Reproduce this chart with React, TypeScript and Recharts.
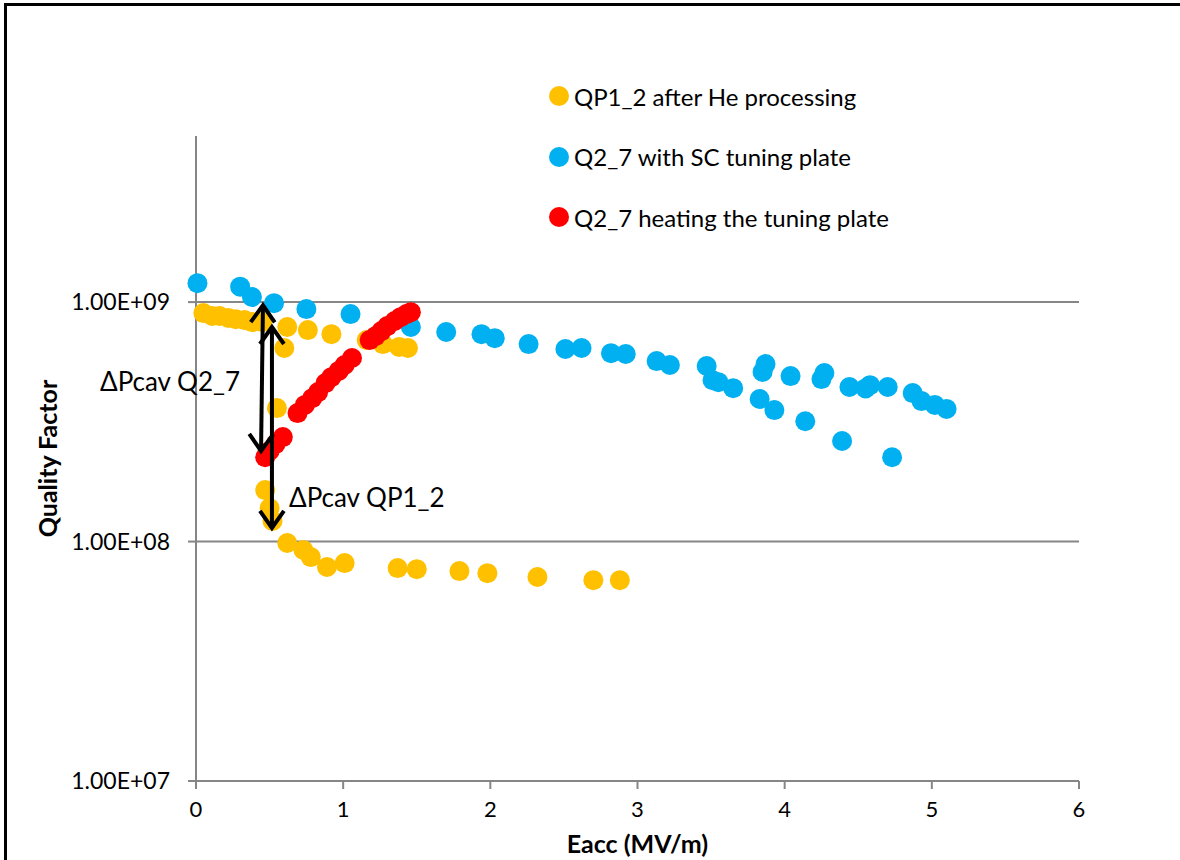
import { ScatterChart, Scatter, XAxis, YAxis, CartesianGrid, Legend, ReferenceLine } from 'recharts'

// [Eacc (MV/m), Q0]
const qp12Points: [number, number][] = [
  [0.05, 9.0e8], [0.11, 8.75e8], [0.16, 8.75e8], [0.22, 8.58e8], [0.27, 8.49e8],
  [0.33, 8.41e8], [0.38, 8.25e8], [0.45, 8.25e8], [0.62, 7.87e8], [0.6, 6.43e8],
  [0.76, 7.64e8], [0.92, 7.35e8], [0.55, 3.61e8], [1.16, 6.94e8], [1.27, 6.68e8],
  [1.38, 6.5e8], [1.44, 6.43e8], [0.47, 1.64e8], [0.5, 1.38e8], [0.52, 1.22e8],
  [0.62, 9.86e7], [0.73, 9.22e7], [0.78, 8.61e7], [0.89, 7.83e7], [1.01, 8.13e7],
  [1.37, 7.75e7], [1.5, 7.67e7], [1.79, 7.53e7], [1.98, 7.38e7], [2.32, 7.11e7],
  [2.7, 6.9e7], [2.88, 6.9e7],
]

const q27ScPoints: [number, number][] = [
  [0.01, 1.2e9], [0.3, 1.16e9], [0.38, 1.05e9], [0.53, 9.9e8], [0.75, 9.35e8],
  [1.05, 8.91e8], [1.46, 7.87e8], [1.7, 7.5e8], [1.94, 7.35e8], [2.03, 7.07e8],
  [2.26, 6.68e8], [2.51, 6.37e8], [2.62, 6.43e8], [2.82, 6.12e8], [2.92, 6.07e8],
  [3.13, 5.67e8], [3.22, 5.46e8], [3.47, 5.41e8], [3.51, 4.72e8], [3.55, 4.63e8],
  [3.65, 4.37e8], [3.83, 3.94e8], [3.85, 5.11e8], [3.87, 5.51e8], [3.93, 3.54e8],
  [4.04, 4.91e8], [4.14, 3.18e8], [4.25, 4.77e8], [4.27, 5.06e8], [4.39, 2.63e8],
  [4.44, 4.42e8], [4.55, 4.36e8], [4.58, 4.5e8], [4.7, 4.42e8], [4.73, 2.25e8],
  [4.87, 4.17e8], [4.93, 3.86e8], [5.02, 3.72e8], [5.1, 3.58e8],
]

const q27HeatPoints: [number, number][] = [
  [0.47, 2.25e8], [0.5, 2.39e8], [0.54, 2.55e8], [0.59, 2.73e8], [0.69, 3.44e8],
  [0.74, 3.72e8], [0.79, 3.97e8], [0.83, 4.21e8], [0.88, 4.59e8], [0.92, 4.86e8],
  [0.97, 5.16e8], [1.01, 5.46e8], [1.06, 5.84e8], [1.18, 6.94e8], [1.22, 7.21e8],
  [1.26, 7.57e8], [1.3, 7.94e8], [1.35, 8.34e8], [1.39, 8.65e8], [1.43, 8.91e8],
  [1.46, 9.08e8],
]

const seriesNames = ['QP1_2 after He processing', 'Q2_7 with SC tuning plate', 'Q2_7 heating the tuning plate']
const seriesColors = ['#FFC000', '#00B0F0', '#FF0000']

const xTicks = [0, 1, 2, 3, 4, 5, 6]
const yTicks = [1e7, 1e8, 1e9]

// ΔPcav arrows: top point -> bottom point
const arrowQ27 = [{ x: 0.455, y: 9.7e8 }, { x: 0.442, y: 2.39e8 }]
const arrowQP12 = [{ x: 0.516, y: 7.87e8 }, { x: 0.516, y: 1.14e8 }]

const toXY = (pts: [number, number][]) => pts.map(([x, y]) => ({ x, y }))

const fmtSci = (v: number) => {
  const e = Math.round(Math.log10(v))
  const m = v / Math.pow(10, e)
  return `${m.toFixed(2)}E+${String(e).padStart(2, '0')}`
}

const dot = (color: string) => (p: any) => <circle cx={p.cx} cy={p.cy} r={10} fill={color} />

function DoubleArrow(props: any) {
  const x1 = Number(props.x1)
  const y1 = Number(props.y1)
  const x2 = Number(props.x2)
  const y2 = Number(props.y2)
  const dx = x2 - x1
  const dy = y2 - y1
  const len = Math.sqrt(dx * dx + dy * dy) || 1
  const ux = dx / len
  const uy = dy / len
  const px = -uy
  const py = ux
  const h = 17
  const w = 12
  const head = (tx: number, ty: number, dir: number) =>
    `M${tx - dir * ux * h + px * w},${ty - dir * uy * h + py * w} L${tx},${ty} L${tx - dir * ux * h - px * w},${ty - dir * uy * h - py * w}`
  return (
    <g>
      <line x1={x1} y1={y1} x2={x2} y2={y2} stroke="#000" strokeWidth={4} />
      <path d={head(x2, y2, 1)} fill="none" stroke="#000" strokeWidth={4} />
      <path d={head(x1, y1, -1)} fill="none" stroke="#000" strokeWidth={4} />
    </g>
  )
}

function LegendBox() {
  return (
    <div>
      {seriesNames.map((name, i) => (
        <div key={name} style={{ display: 'flex', alignItems: 'center', height: 60.5 }}>
          <svg width={22} height={22} style={{ marginRight: 4 }}>
            <circle cx={11} cy={11} r={10} fill={seriesColors[i]} />
          </svg>
          <span style={{ fontSize: 24, color: '#000' }}>{name}</span>
        </div>
      ))}
    </div>
  )
}

export default function App() {
  return (
    <div style={{ position: 'absolute', left: 0, top: 0, width: 1180, height: 860, overflow: 'hidden', background: '#fff', fontFamily: 'Lato, "Noto Sans", sans-serif' }}>
      <div style={{ position: 'absolute', left: 4, top: 3, width: 1200, height: 900, border: '3px solid #000', boxSizing: 'border-box' }} />
      <ScatterChart width={1180} height={860} margin={{ top: 136, right: 101, bottom: 0, left: 0 }}>
        <CartesianGrid vertical={false} horizontalValues={yTicks} stroke="#868686" strokeWidth={2} />
        <XAxis
          type="number"
          dataKey="x"
          domain={[0, 6]}
          ticks={xTicks}
          height={79}
          stroke="#868686"
          strokeWidth={2}
          tickSize={8}
          tickMargin={12}
          tick={{ fill: '#000', fontSize: 22 }}
          label={{ value: 'Eacc (MV/m)', position: 'insideBottom', offset: 7, fill: '#000', fontSize: 25, fontWeight: 'bold' }}
        />
        <YAxis
          type="number"
          dataKey="y"
          scale="log"
          domain={[1e7, 4.94e9]}
          allowDataOverflow
          ticks={yTicks}
          width={196}
          stroke="#868686"
          strokeWidth={2}
          tickSize={8}
          tickMargin={18}
          tickFormatter={fmtSci}
          tick={{ fill: '#000', fontSize: 23 }}
          label={{ value: 'Quality Factor', angle: -90, position: 'insideLeft', offset: 48, fill: '#000', fontSize: 25, fontWeight: 'bold', style: { textAnchor: 'middle' } }}
        />
        <Legend
          layout="vertical"
          align="center"
          verticalAlign="middle"
          content={LegendBox}
          wrapperStyle={{ left: 548, top: 66, width: 'auto' }}
        />
        <Scatter name={seriesNames[0]} data={toXY(qp12Points)} fill={seriesColors[0]} shape={dot(seriesColors[0])} isAnimationActive={false} />
        <Scatter name={seriesNames[1]} data={toXY(q27ScPoints)} fill={seriesColors[1]} shape={dot(seriesColors[1])} isAnimationActive={false} />
        <Scatter name={seriesNames[2]} data={toXY(q27HeatPoints)} fill={seriesColors[2]} shape={dot(seriesColors[2])} isAnimationActive={false} />
        <ReferenceLine segment={arrowQ27} shape={DoubleArrow} zIndex={2000} />
        <ReferenceLine segment={arrowQP12} shape={DoubleArrow} zIndex={2000} />
      </ScatterChart>
      <div style={{ position: 'absolute', left: 100, top: 365, fontSize: 26, color: '#000', whiteSpace: 'nowrap' }}>ΔPcav Q2_7</div>
      <div style={{ position: 'absolute', left: 289, top: 481, fontSize: 26, color: '#000', whiteSpace: 'nowrap' }}>ΔPcav QP1_2</div>
    </div>
  )
}
